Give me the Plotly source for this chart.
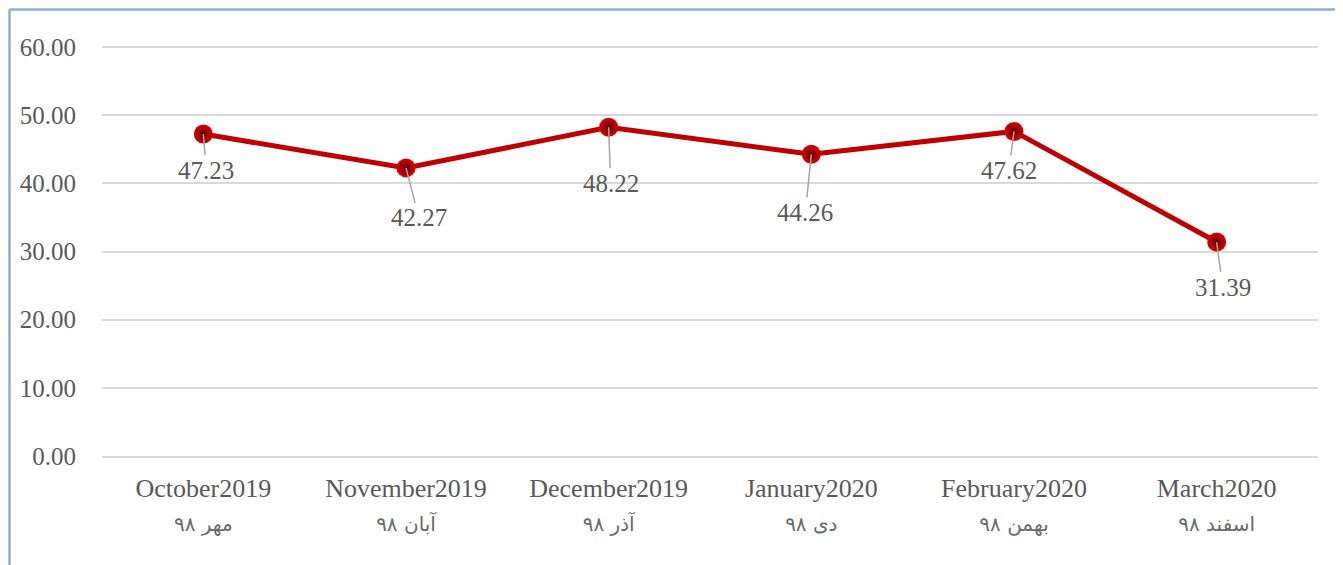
import plotly.graph_objects as go

# --- data ---
months_en = ["October2019", "November2019", "December2019", "January2020", "February2020", "March2020"]
months_fa = ["مهر ۹۸", "آبان ۹۸", "آذر ۹۸", "دی ۹۸", "بهمن ۹۸", "اسفند ۹۸"]
values = [47.23, 42.27, 48.22, 44.26, 47.62, 31.39]
y_ticks = [0, 10, 20, 30, 40, 50, 60]

# label offsets (pixels) for the data labels, as placed in the original
label_dx = [3, 13, 2, -6, -5, 6]
label_dy = [36, 50, 56, 58, 39, 45]

TEXT = "#595959"
FONT = "Liberation Serif, Times New Roman, DejaVu Serif, serif"

categories = [
    f"{e}<br><span style='font-family:DejaVu Sans;font-size:20px;color:#6a6a6a'>{f}</span>"
    for e, f in zip(months_en, months_fa)
]
x_idx = list(range(len(values)))

# the page body adds 8px around the figure, so margins are shifted by that
PLOT_H = 411
fig = go.Figure()
fig.add_trace(go.Scatter(
    x=x_idx, y=values, mode="lines+markers",
    line=dict(color="#c00000", width=5),
    marker=dict(size=19, color="#e00000",
                gradient=dict(type="radial", color="#5a0000"),
                line=dict(width=0)),
    showlegend=False, hoverinfo="y", cliponaxis=False
))

for i, v in enumerate(values):
    fig.add_annotation(
        x=i, y=v, text=f"{v:.2f}", showarrow=True,
        arrowhead=0, arrowwidth=1.5, arrowcolor="#a6a6a6",
        ax=label_dx[i], ay=label_dy[i], standoff=0,
        font=dict(family=FONT, size=25, color=TEXT)
    )

# outer frame (top + left edges), at the edge of the figure
top = (456 - 9.5) / PLOT_H
left = (9.5 - 102) / 1216
fig.add_shape(type="line", xref="paper", yref="paper",
              x0=left, x1=1.05, y0=top, y1=top,
              line=dict(color="#8eaadb", width=2.5))
fig.add_shape(type="line", xref="paper", yref="paper",
              x0=left, x1=left, y0=-0.3, y1=top,
              line=dict(color="#8eaadb", width=2.5))

fig.update_layout(
    width=1343, height=565,
    margin=dict(l=94, r=33, t=565 - 117 - PLOT_H, b=117),
    paper_bgcolor="white", plot_bgcolor="white",
    font=dict(family=FONT, color=TEXT, size=25),
    xaxis=dict(
        tickmode="array", tickvals=x_idx, ticktext=categories,
        range=[-0.5, len(values) - 0.5],
        showgrid=False, zeroline=False,
        showline=True, linecolor="#d9d9d9", linewidth=2,
        ticks="", tickfont=dict(size=26, color=TEXT),
        ticklabelstandoff=8,
        automargin=False,
    ),
    yaxis=dict(
        range=[0, 60.3], tickvals=y_ticks,
        ticktext=[f"{t:.2f}" for t in y_ticks],
        showgrid=True, gridcolor="#d9d9d9", gridwidth=2,
        zeroline=False, showline=False, ticks="",
        ticklabelstandoff=25,
        tickfont=dict(size=25, color=TEXT),
        automargin=False,
    ),
)

fig.write_html("out.html")
